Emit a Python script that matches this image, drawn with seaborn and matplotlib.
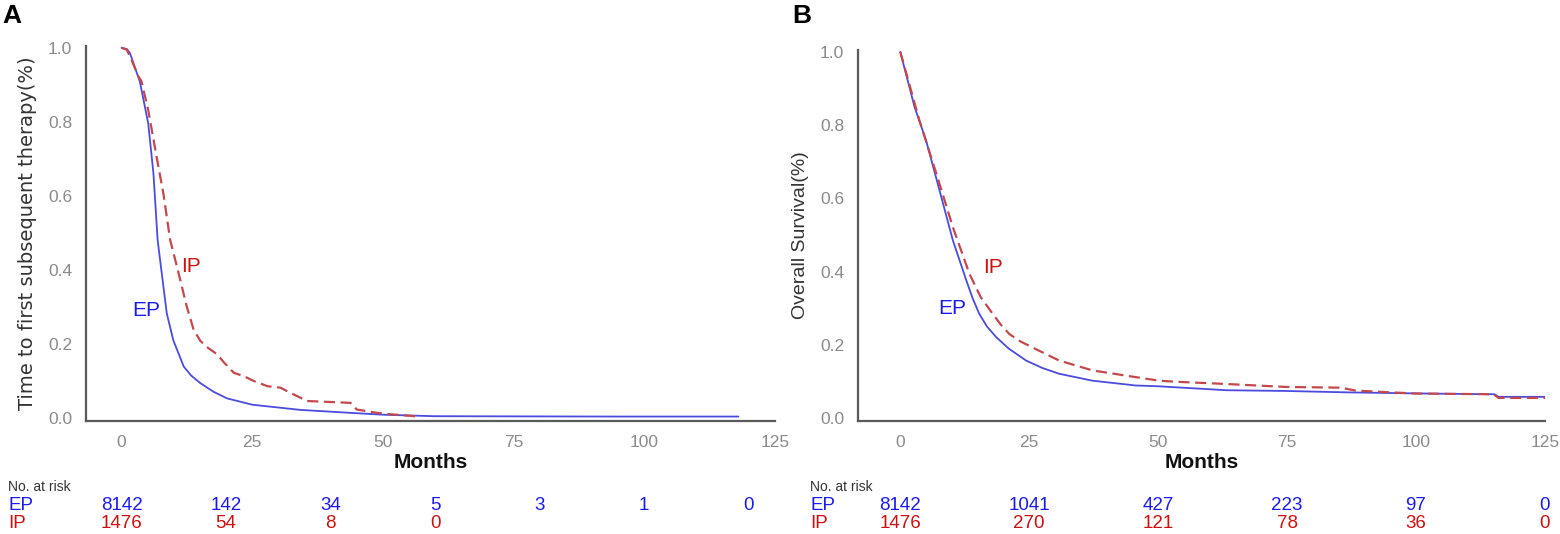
import numpy as np
import pandas as pd
import seaborn as sns
import matplotlib.pyplot as plt
import matplotlib.transforms as mtransforms

sns.set_style('white')
plt.rcParams['font.family'] = ['Liberation Sans', 'DejaVu Sans']

### Curve data (months, proportion)
a_ep_t = [0, 1.0, 1.6, 3.5, 5.1, 6.1, 6.9, 7.7, 8.65, 9.9, 11.9, 13.3, 15.1, 17.6, 20.2, 25.0, 34.2, 43.8, 50.0, 59.7, 75, 95, 118]
a_ep_s = [1.0, 0.997, 0.986, 0.909, 0.796, 0.661, 0.481, 0.39, 0.283, 0.21, 0.139, 0.115, 0.094, 0.071, 0.053, 0.036,
          0.022, 0.014, 0.009, 0.005, 0.0045, 0.004, 0.004]
a_ip_t = [0, 1.0, 1.9, 3.2, 3.8, 5.1, 6.7, 8.0, 9.3, 10.6, 12.5, 13.8, 15.1, 16.5, 18.3, 19.6, 21.5, 23.4,
          25.3, 27.9, 30.4, 32.3, 34.2, 35.5, 43.8, 45.0, 48.9, 50.8, 56.5]
a_ip_s = [1.0, 0.995, 0.968, 0.923, 0.91, 0.832, 0.706, 0.607, 0.481, 0.409, 0.30, 0.238, 0.208, 0.19, 0.172, 0.15,
          0.122, 0.113, 0.10, 0.086, 0.082, 0.068, 0.055, 0.046, 0.041, 0.023, 0.014, 0.011, 0.0045]

b_ep_t = [0, 2.77, 5.0, 7.6, 10.2, 12.8, 14.0, 15.3, 16.8, 18.6, 21.0, 24.4, 27.5, 30.8, 37.3, 45.6, 49.8, 63.3,
          74.8, 87.3, 101.7, 115.2, 116.0, 125]
b_ep_s = [1.0, 0.849, 0.758, 0.622, 0.485, 0.376, 0.328, 0.285, 0.25, 0.221, 0.19, 0.157, 0.137, 0.121, 0.102, 0.089,
          0.087, 0.076, 0.074, 0.07, 0.067, 0.065, 0.058, 0.058]
b_ip_t = [0, 3.7, 7.0, 10.2, 13.4, 15.6, 17.9, 19.5, 21.1, 23.2, 25.6, 30.8, 37.3, 43.7, 50.2, 53.7, 63.3, 74.8,
          85.4, 88.3, 99.8, 115, 116, 125]
b_ip_s = [1.0, 0.813, 0.667, 0.521, 0.394, 0.33, 0.285, 0.255, 0.23, 0.21, 0.193, 0.157, 0.13, 0.116, 0.102, 0.099,
          0.093, 0.085, 0.083, 0.075, 0.067, 0.065, 0.055, 0.055]

### Numbers at risk
a_risk_t = [0, 20, 40, 60, 80, 100, 120]
a_risk_ep = [8142, 142, 34, 5, 3, 1, 0]
a_risk_ip = [1476, 54, 8, 0]
b_risk_t = [0, 25, 50, 75, 100, 125]
b_risk_ep = [8142, 1041, 427, 223, 97, 0]
b_risk_ip = [1476, 270, 121, 78, 36, 0]

x_ticks = [0, 25, 50, 75, 100, 125]
y_ticks = [0.0, 0.2, 0.4, 0.6, 0.8, 1.0]

blue_line = '#4b4be0'
red_line = '#c5484c'
blue_txt = '#1a1aee'
red_txt = '#cc1010'
narrow = ['Liberation Sans', 'DejaVu Sans']

fig = plt.figure(figsize=(15.6, 5.34), dpi=100)
W, H = 1560, 534

panels = [
    dict(rect=[86 / W, 1 - 421 / H, (775 - 86) / W, (421 - 46) / H], xlim=(-6.8, 125),
         ep=(a_ep_t, a_ep_s), ip=(a_ip_t, a_ip_s), ylabel='Time to first subsequent therapy(%)',
         yfont=['DejaVu Sans'], lab_ip=(13.3, 0.41), lab_ep=(4.8, 0.29),
         risk=(a_risk_t, a_risk_ep, a_risk_ip), letter='A', lx=2, rx=8),
    dict(rect=[858 / W, 1 - 421 / H, (1545 - 858) / W, (421 - 50) / H], xlim=(-8.2, 125),
         ep=(b_ep_t, b_ep_s), ip=(b_ip_t, b_ip_s), ylabel='Overall Survival(%)',
         yfont=['Liberation Sans', 'DejaVu Sans'], lab_ip=(17.9, 0.41), lab_ep=(10.1, 0.30),
         risk=(b_risk_t, b_risk_ep, b_risk_ip), letter='B', lx=792, rx=810),
]

for p in panels:
    ax = fig.add_axes(p['rect'])

    ep = pd.DataFrame({'Months': p['ep'][0], 'S': p['ep'][1]})
    ip = pd.DataFrame({'Months': p['ip'][0], 'S': p['ip'][1]})
    sns.lineplot(data=ep, x='Months', y='S', color=blue_line, lw=1.3, estimator=None, sort=False, ax=ax)
    sns.lineplot(data=ip, x='Months', y='S', color=red_line, lw=1.6, estimator=None, sort=False,
                 dashes=False, ax=ax)
    ax.lines[-1].set_dashes([5, 2.5])

    ax.set_xlim(*p['xlim'])
    ax.set_ylim(-0.008, 1.005)
    ax.set_xticks(x_ticks)
    ax.set_yticks(y_ticks)
    ax.set_xticklabels([str(v) for v in x_ticks])
    ax.set_yticklabels([f'{v:.1f}' for v in y_ticks])

    ### Spines and ticks
    for m in ['top', 'right']:
        ax.spines[m].set_visible(False)
    for m in ['left', 'bottom']:
        ax.spines[m].set_linewidth(1.6)
        ax.spines[m].set_color('#5a5a5a')
    ax.tick_params(axis='both', direction='out', length=6, width=1.4, color='#5a5a5a',
                   labelcolor='#8a8a8a', labelsize=12.5, pad=4)
    for lab in ax.get_xticklabels() + ax.get_yticklabels():
        lab.set_family(narrow)

    ax.set_xlabel('Months', fontsize=15, fontweight='bold', family=narrow, color='#111111', labelpad=2)
    ax.set_ylabel(p['ylabel'], fontsize=14, family=p['yfont'], color='#333333', labelpad=8)

    ### Curve labels
    ax.text(*p['lab_ip'], 'IP', color=red_txt, fontsize=15, ha='center', va='center')
    ax.text(*p['lab_ep'], 'EP', color=blue_txt, fontsize=15, ha='center', va='center')

    ### Risk table under the axis
    trans = mtransforms.blended_transform_factory(ax.transData, fig.transFigure)
    t_r, ep_r, ip_r = p['risk']
    for t, n in zip(t_r, ep_r):
        ax.text(t, 1 - 505 / H, str(n), transform=trans, color=blue_txt, fontsize=13.5,
                family=narrow, ha='center', va='center')
    for t, n in zip(t_r, ip_r):
        ax.text(t, 1 - 523 / H, str(n), transform=trans, color=red_txt, fontsize=13.5,
                family=narrow, ha='center', va='center')
    fig.text(p['rx'] / W, 1 - 487 / H, 'No. at risk', fontsize=10, family=narrow, color='#333333',
             ha='left', va='center')
    fig.text(p['rx'] / W, 1 - 505 / H, 'EP', fontsize=13.5, family=narrow, color=blue_txt, ha='left', va='center')
    fig.text(p['rx'] / W, 1 - 523 / H, 'IP', fontsize=13.5, family=narrow, color=red_txt, ha='left', va='center')

    fig.text(p['lx'] / W, 1 - 16 / H, p['letter'], fontsize=19, fontweight='bold', color='black',
             ha='left', va='center')

fig.savefig('out.png', dpi=100)
